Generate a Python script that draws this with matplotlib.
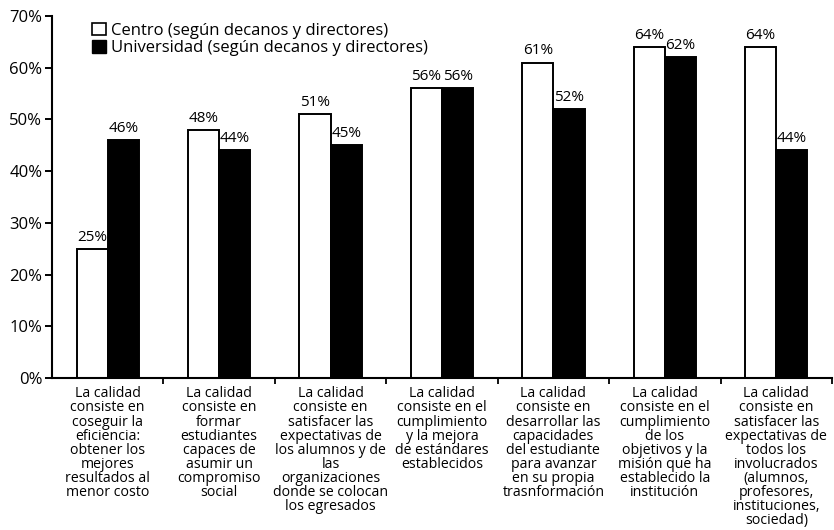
import matplotlib
matplotlib.use("Agg")
import matplotlib.pyplot as plt
import numpy as np
from matplotlib.patches import Patch

plt.rcParams['font.family'] = ['Open Sans', 'DejaVu Sans']

categorias = [
    "La calidad\nconsiste en\ncoseguir la\neficiencia:\nobtener los\nmejores\nresultados al\nmenor costo",
    "La calidad\nconsiste en\nformar\nestudiantes\ncapaces de\nasumir un\ncompromiso\nsocial",
    "La calidad\nconsiste en\nsatisfacer las\nexpectativas de\nlos alumnos y de\nlas\norganizaciones\ndonde se colocan\nlos egresados",
    "La calidad\nconsiste en el\ncumplimiento\ny la mejora\nde estándares\nestablecidos",
    "La calidad\nconsiste en\ndesarrollar las\ncapacidades\ndel estudiante\npara avanzar\nen su propia\ntrasnformación",
    "La calidad\nconsiste en el\ncumplimiento\nde los\nobjetivos y la\nmisión que ha\nestablecido la\ninstitución",
    "La calidad\nconsiste en\nsatisfacer las\nexpectativas de\ntodos los\ninvolucrados\n(alumnos,\nprofesores,\ninstituciones,\nsociedad)",
]
centro = [25, 48, 51, 56, 61, 64, 64]
universidad = [46, 44, 45, 56, 52, 62, 44]
serie_labels = ["Centro (según decanos y directores)",
                "Universidad (según decanos y directores)"]

fig = plt.figure(figsize=(8.34, 5.30), dpi=100)
ax = fig.add_axes([52/834, 152/530, 780/834, 362/530])

x = np.arange(len(categorias))
w = 0.28
b1 = ax.bar(x - w/2, centro, w, color="white", edgecolor="black", linewidth=1.4)
b2 = ax.bar(x + w/2, universidad, w, color="black", edgecolor="black", linewidth=1.4)

for rects, vals in ((b1, centro), (b2, universidad)):
    for r, v in zip(rects, vals):
        ax.text(r.get_x() + r.get_width()/2, v + 0.8, f"{v}%",
                ha="center", va="bottom", fontsize=11)

ax.set_xlim(-0.5, 6.5)
ax.set_ylim(0, 70)
ax.set_yticks(range(0, 71, 10))
ax.set_yticklabels([f"{t}%" for t in range(0, 71, 10)], fontsize=12)
ax.set_xticks(x)
ax.set_xticklabels(categorias, fontsize=10.2, linespacing=0.92, va="top")
ax.set_xticks(np.arange(0.5, 7, 1), minor=True)
ax.tick_params(axis="x", which="major", length=0, pad=6)
ax.tick_params(axis="x", which="minor", length=4, width=1.3, direction="out")
ax.tick_params(axis="y", length=5, width=1.4, pad=2)

for s in ("top", "right"):
    ax.spines[s].set_visible(False)
for s in ("left", "bottom"):
    ax.spines[s].set_linewidth(1.5)

handles = [Patch(facecolor="white", edgecolor="black", linewidth=1.2),
           Patch(facecolor="black", edgecolor="black")]
ax.legend(handles, serie_labels, loc="upper left", bbox_to_anchor=(0.043, 1.0),
          frameon=False, fontsize=12, handlelength=0.8, handleheight=0.8,
          handletextpad=0.3, labelspacing=0.08, borderaxespad=0)

fig.savefig("out.png", dpi=100)
